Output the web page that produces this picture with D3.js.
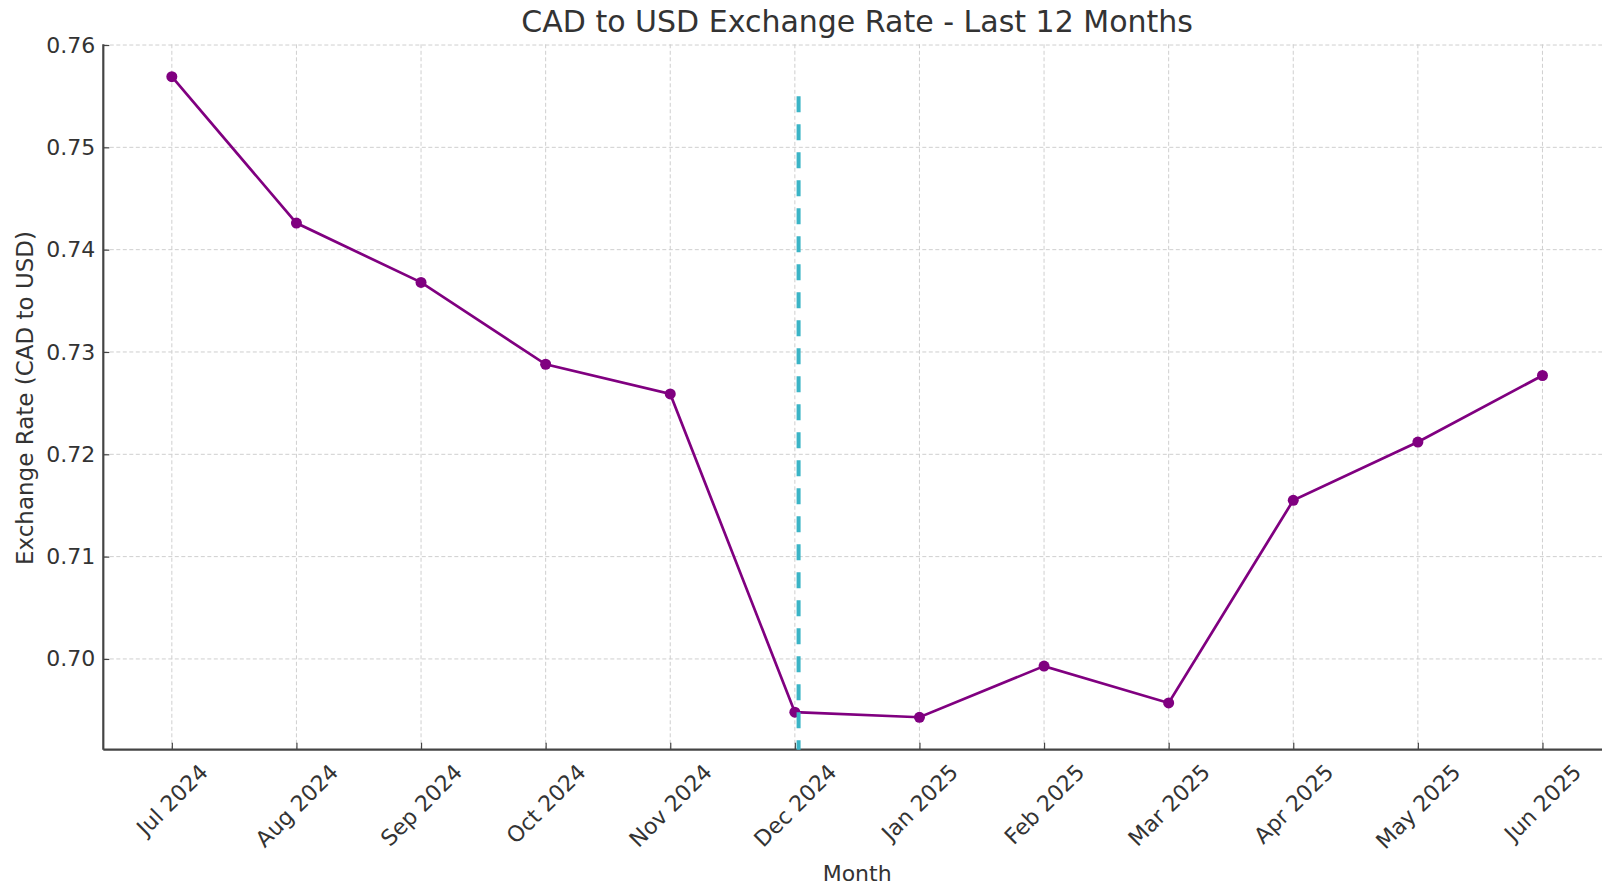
<!DOCTYPE html>
<html>
  <head>
    <title>CAD to USD Exchange Rate</title>
    <script src="https://d3js.org/d3.v7.js"></script>
    <style>
      body { margin: 0; background: #fff; }
      text { font-family: 'DejaVu Sans', sans-serif; fill: #333; }
    </style>
  </head>
  <body>
    <svg width="1602" height="886"></svg>

    <script>
      (function (d3) {
        'use strict';

        const months = [
          'Jul 2024', 'Aug 2024', 'Sep 2024', 'Oct 2024', 'Nov 2024', 'Dec 2024',
          'Jan 2025', 'Feb 2025', 'Mar 2025', 'Apr 2025', 'May 2025', 'Jun 2025',
        ];
        const rates = [
          0.7569, 0.7426, 0.7368, 0.7288, 0.7259, 0.6948,
          0.6943, 0.6993, 0.6957, 0.7155, 0.7212, 0.7277,
        ];
        const yTicks = [0.70, 0.71, 0.72, 0.73, 0.74, 0.75, 0.76];
        // dashed marker line (position in month index, top value)
        const markerX = 5.03;
        const markerTop = 0.755;

        const titleText = 'CAD to USD Exchange Rate - Last 12 Months';
        const xAxisLabelText = 'Month';
        const yAxisLabelText = 'Exchange Rate (CAD to USD)';

        const svg = d3.select('svg');

        const plot = { left: 103.3, top: 44.3, right: 1611, bottom: 749.7 };

        const xScale = d3
          .scaleLinear()
          .domain([-0.55, months.length - 1 + 0.55])
          .range([plot.left, plot.right]);

        const yScale = d3
          .scaleLinear()
          .domain([0.69113, 0.76007])
          .range([plot.bottom, plot.top]);

        const g = svg.append('g');

        // grid
        g.append('g')
          .selectAll('line')
          .data(yTicks)
          .enter()
          .append('line')
          .attr('x1', plot.left)
          .attr('x2', plot.right)
          .attr('y1', (d) => yScale(d))
          .attr('y2', (d) => yScale(d))
          .attr('stroke', '#cfcfcf')
          .attr('stroke-width', 1)
          .attr('stroke-dasharray', '4,2.5');

        g.append('g')
          .selectAll('line')
          .data(months)
          .enter()
          .append('line')
          .attr('x1', (d, i) => xScale(i))
          .attr('x2', (d, i) => xScale(i))
          .attr('y1', plot.top)
          .attr('y2', plot.bottom)
          .attr('stroke', '#cfcfcf')
          .attr('stroke-width', 1)
          .attr('stroke-dasharray', '4,2.5');

        // y axis
        const yAxis = d3
          .axisLeft(yScale)
          .tickValues(yTicks)
          .tickFormat(d3.format('.2f'))
          .tickSize(-6);

        const yAxisG = g
          .append('g')
          .attr('transform', `translate(${plot.left},0)`)
          .call(yAxis);
        yAxisG.select('.domain').remove();
        yAxisG.selectAll('.tick line').attr('stroke', '#444').attr('stroke-width', 1.2);
        yAxisG
          .selectAll('.tick text')
          .attr('x', -8)
          .style('font-size', '22px')
          .style('font-family', 'DejaVu Sans')
          .attr('fill', '#333');

        // x axis
        const xAxis = d3
          .axisBottom(xScale)
          .tickValues(d3.range(months.length))
          .tickFormat((i) => months[i])
          .tickSize(-7);

        const xAxisG = g
          .append('g')
          .attr('transform', `translate(0,${plot.bottom})`)
          .call(xAxis);
        xAxisG.select('.domain').remove();
        xAxisG.selectAll('.tick line').attr('stroke', '#444').attr('stroke-width', 1.2);

        const xFont = 22;
        xAxisG
          .selectAll('.tick text')
          .style('font-size', xFont + 'px')
          .style('font-family', 'DejaVu Sans')
          .attr('fill', '#333')
          .attr('text-anchor', 'middle')
          .attr('dy', null)
          .attr('dominant-baseline', 'central')
          .each(function () {
            // rotated label: top of its box sits just under the axis
            const w = this.getComputedTextLength();
            const h = xFont * 1.1;
            const boxH = (w + h) * Math.SQRT1_2;
            const cy = 10 + boxH / 2;
            d3.select(this)
              .attr('y', 0)
              .attr('transform', `translate(0,${cy}) rotate(-45)`);
          });

        // spines
        g.append('line')
          .attr('x1', plot.left)
          .attr('x2', plot.left)
          .attr('y1', plot.top)
          .attr('y2', plot.bottom)
          .attr('stroke', '#444')
          .attr('stroke-width', 2.2);
        g.append('line')
          .attr('x1', plot.left)
          .attr('x2', plot.right)
          .attr('y1', plot.bottom)
          .attr('y2', plot.bottom)
          .attr('stroke', '#444')
          .attr('stroke-width', 2.2);

        // rate line
        const line = d3
          .line()
          .x((d, i) => xScale(i))
          .y((d) => yScale(d));

        g.append('path')
          .datum(rates)
          .attr('d', line)
          .attr('fill', 'none')
          .attr('stroke', '#800080')
          .attr('stroke-width', 2.7);

        g.append('g')
          .selectAll('circle')
          .data(rates)
          .enter()
          .append('circle')
          .attr('cx', (d, i) => xScale(i))
          .attr('cy', (d) => yScale(d))
          .attr('r', 5.5)
          .attr('fill', '#800080');

        // dashed marker
        g.append('line')
          .attr('x1', xScale(markerX))
          .attr('x2', xScale(markerX))
          .attr('y1', yScale(markerTop))
          .attr('y2', plot.bottom)
          .attr('stroke', '#3bb4c6')
          .attr('stroke-width', 4)
          .attr('stroke-dasharray', '16,12');

        // titles
        svg.append('text')
          .attr('x', (plot.left + plot.right) / 2)
          .attr('y', 32)
          .attr('text-anchor', 'middle')
          .style('font-size', '30px')
          .text(titleText);

        svg.append('text')
          .attr('x', (plot.left + plot.right) / 2)
          .attr('y', 881)
          .attr('text-anchor', 'middle')
          .style('font-size', '22px')
          .text(xAxisLabelText);

        svg.append('text')
          .attr('transform', `translate(33,${(plot.top + plot.bottom) / 2 + 1}) rotate(-90)`)
          .attr('text-anchor', 'middle')
          .style('font-size', '23px')
          .text(yAxisLabelText);
      })(d3);
    </script>
  </body>
</html>
